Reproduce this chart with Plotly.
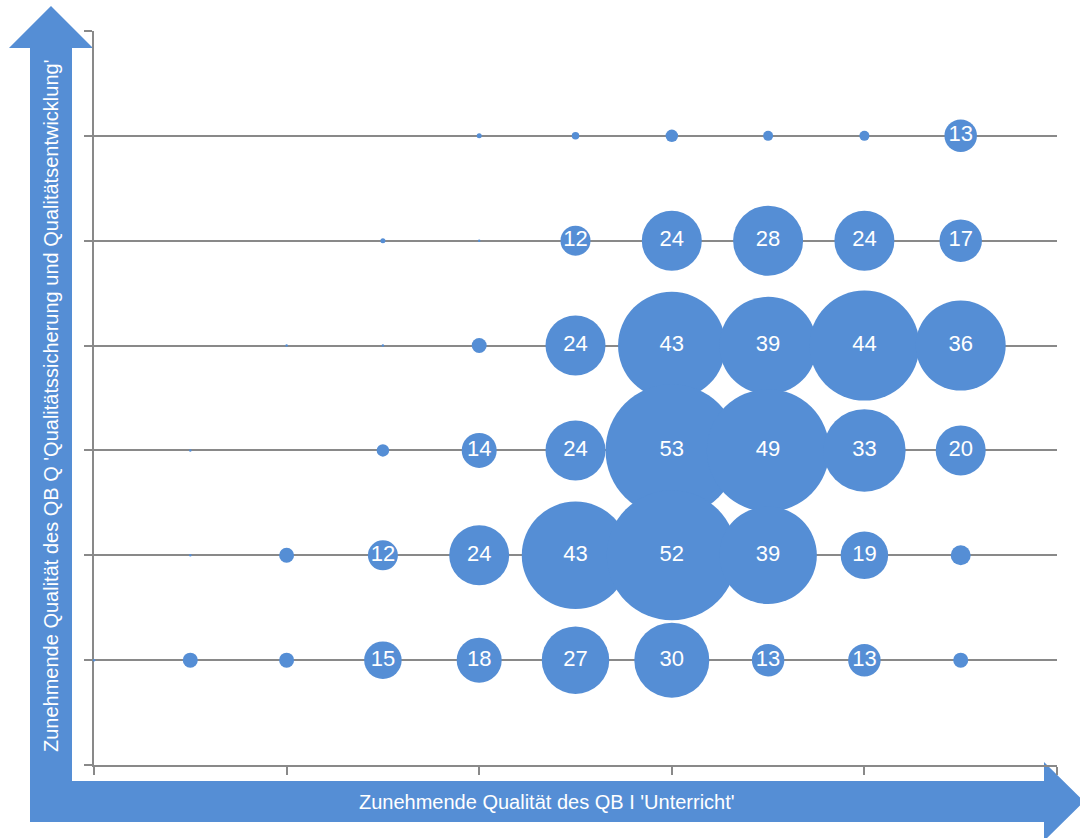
import plotly.graph_objects as go

# Quality levels on each axis (positions of the bubble grid)
x_levels = [0, 1, 2, 3, 4, 5, 6, 7, 8, 9]
y_levels = [6, 5, 4, 3, 2, 1]

# Number of schools per combination, one list per QB Q level (top to bottom)
counts_q6 = [0, 0, 0, 0, 2, 3, 5, 4, 4, 13]
counts_q5 = [0, 0, 0, 2, 1, 12, 24, 28, 24, 17]
counts_q4 = [0, 0, 1, 1, 6, 24, 43, 39, 44, 36]
counts_q3 = [0, 1, 0, 5, 14, 24, 53, 49, 33, 20]
counts_q2 = [0, 1, 6, 12, 24, 43, 52, 39, 19, 8]
counts_q1 = [1, 6, 6, 15, 18, 27, 30, 13, 13, 6]

x_title = "Zunehmende Qualität des QB I 'Unterricht'"
y_title = "Zunehmende Qualität des QB Q 'Qualitätssicherung und Qualitätsentwicklung'"

BLUE = "#558ed5"
GRID = "#898989"
FONT = "Liberation Sans, Arial, sans-serif"

W, H = 1080, 838
L, R, T, B = 94, 23, 31, 73
PW, PH = W - L - R, H - T - B

rows = [counts_q6, counts_q5, counts_q4, counts_q3, counts_q2, counts_q1]
xs, ys, vals = [], [], []
for yv, row in zip(y_levels, rows):
    for xv, v in zip(x_levels, row):
        if v > 0:
            xs.append(xv)
            ys.append(yv)
            vals.append(v)

labels = [str(v) if v >= 10 else "" for v in vals]

fig = go.Figure()
fig.add_trace(go.Scatter(
    x=xs, y=ys, mode="markers+text",
    text=labels, textposition="middle center",
    textfont=dict(family=FONT, size=22, color="white"),
    marker=dict(size=vals, sizemode="diameter", sizeref=0.4, sizemin=0,
                color=BLUE, opacity=1, line=dict(width=0)),
    cliponaxis=False, hoverinfo="skip", showlegend=False,
))


def px(x):
    return (x - L) / PW


def py(y):
    return (H - B - y) / PH


# L-shaped double arrow framing the axes
pts = [(30, 822), (30, 48), (9, 48), (51, 6), (93, 48), (72, 48), (72, 781),
       (1044, 781), (1044, 762), (1084, 801.5), (1044, 841), (1044, 822)]
path = "M " + " L ".join(f"{px(a):.5f},{py(b):.5f}" for a, b in pts) + " Z"

fig.update_layout(
    width=W, height=H,
    margin=dict(l=L, r=R, t=T, b=B, pad=0),
    paper_bgcolor="white", plot_bgcolor="white",
    font=dict(family=FONT),
    showlegend=False,
    shapes=[dict(type="path", path=path, xref="paper", yref="paper",
                 fillcolor=BLUE, line=dict(width=0), layer="below")],
    annotations=[
        dict(text=x_title, xref="paper", yref="paper", x=px(547), y=py(802),
             showarrow=False, font=dict(family=FONT, size=20, color="white"),
             xanchor="center", yanchor="middle"),
        dict(text=y_title, xref="paper", yref="paper", x=px(51), y=py(406),
             showarrow=False, textangle=-90,
             font=dict(family=FONT, size=20, color="white"),
             xanchor="center", yanchor="middle"),
    ],
    xaxis=dict(range=[0, 10], dtick=2, tick0=0, showgrid=False, zeroline=False,
               showline=True, linecolor=GRID, linewidth=2,
               ticks="outside", ticklen=8, tickwidth=2, tickcolor=GRID,
               showticklabels=False, fixedrange=True, layer="below traces"),
    yaxis=dict(range=[0, 7], dtick=1, tick0=0, showgrid=True, gridcolor=GRID,
               gridwidth=2, zeroline=False,
               showline=True, linecolor=GRID, linewidth=2,
               ticks="outside", ticklen=8, tickwidth=2, tickcolor=GRID,
               showticklabels=False, fixedrange=True, layer="below traces"),
)

fig.write_html("out.html")
